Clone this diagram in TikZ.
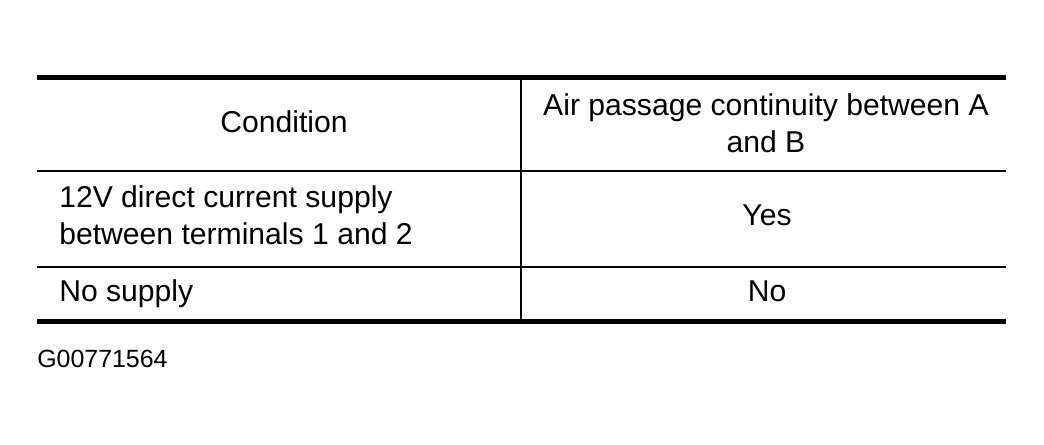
\documentclass[tikz,border=0pt]{standalone}
\usepackage{fontspec}
\setmainfont{Liberation Sans}
\begin{document}
\begin{tikzpicture}[x=0.75pt,y=-0.75pt,
  thick rule/.style={line width=3.75pt},
  thin rule/.style={line width=1.1pt},
  cell/.style={inner sep=0pt,font=\fontsize{22.6}{27.75}\selectfont},
  centercell/.style={cell,align=center}]
\useasboundingbox (0,0) rectangle (1044,444);
% rules
\coordinate (tl) at (37,77);
\coordinate (tr) at (1006,77);
\coordinate (hl) at (37,171);
\coordinate (hr) at (1006,171);
\coordinate (rl) at (37,267);
\coordinate (rr) at (1006,267);
\coordinate (bl) at (37,321);
\coordinate (br) at (1006,321);
\coordinate (vt) at (521,77);
\coordinate (vb) at (521,321);
\draw[thin rule] (hl) -- (hr);
\draw[thin rule] (rl) -- (rr);
\draw[thin rule] (vt) -- (vb);
\draw[thick rule] (tl) -- (tr);
\draw[thick rule] (bl) -- (br);
% texts
\node[cell,anchor=base] (cond) at (284,132) {Condition};
\node[centercell,anchor=center] (air) at (766,123) {Air passage continuity between A\\and B};
\node[cell,anchor=base west] (l1) at (59,207) {12V direct current supply};
\node[cell,anchor=base west] (l2) at (59,244) {between terminals 1 and 2};
\node[cell,anchor=base] (yes) at (767,225) {Yes};
\node[cell,anchor=base west] (nosup) at (59,301) {No supply};
\node[cell,anchor=base] (no) at (767,301) {No};
\node[cell,anchor=base west,font=\fontsize{18.7}{20}\selectfont] (gid) at (37,367) {G00771564};
\end{tikzpicture}
\end{document}
